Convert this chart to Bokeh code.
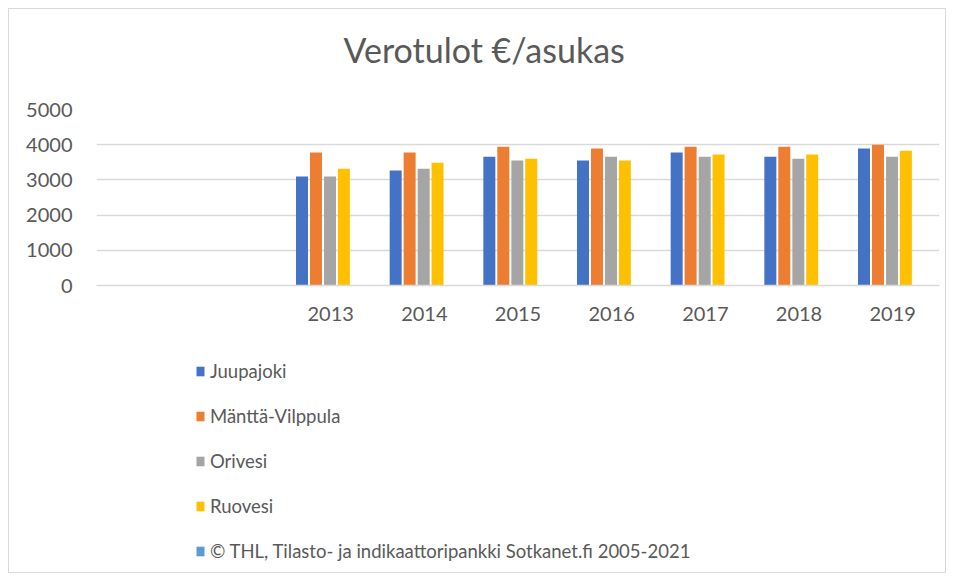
from bokeh.plotting import figure
from bokeh.layouts import column
from bokeh.models import ColumnDataSource, FactorRange, Range1d, Legend, LegendItem, SingleIntervalTicker
from bokeh.transform import dodge
from bokeh.embed import file_html
from bokeh.resources import INLINE

# ---- data ----
categories = ["", " ", "2013", "2014", "2015", "2016", "2017", "2018", "2019"]
years = ["2013", "2014", "2015", "2016", "2017", "2018", "2019"]
juupajoki = [3100, 3270, 3660, 3550, 3775, 3660, 3890]
mantta_vilppula = [3775, 3775, 3945, 3890, 3945, 3945, 4000]
orivesi = [3100, 3315, 3550, 3660, 3660, 3600, 3660]
ruovesi = [3315, 3490, 3600, 3550, 3720, 3720, 3830]
series_names = ["Juupajoki", "Mänttä-Vilppula", "Orivesi", "Ruovesi",
                "© THL, Tilasto- ja indikaattoripankki Sotkanet.fi 2005-2021"]
title_text = "Verotulot €/asukas"

colors = ["#4472C4", "#ED7D31", "#A5A5A5", "#FFC000", "#5B9BD5"]
offsets = [-0.306, -0.157, -0.007, 0.141]
FONT = "Lato"
TXT = "#595959"
W = 936
LEFT = 87
RIGHT = 6


def blank(fig):
    fig.axis.visible = False
    fig.grid.grid_line_color = None
    fig.outline_line_color = None


# ---- title strip ----
t = figure(width=W, height=88, x_range=Range1d(0, 1), y_range=Range1d(0, 1),
           output_backend="svg", toolbar_location=None,
           min_border_left=LEFT, min_border_right=RIGHT, min_border_top=60, min_border_bottom=0)
blank(t)
t.title.text = title_text
t.title.align = "left"
t.title.text_font = FONT
t.title.text_font_style = "normal"
t.title.text_font_size = "34px"
t.title.text_color = TXT
t.title.offset = 247
t.title.standoff = 0

# ---- main chart ----
source = ColumnDataSource(dict(x=years, a=juupajoki, b=mantta_vilppula, c=orivesi, d=ruovesi))
p = figure(width=W, height=230, x_range=FactorRange(*categories, range_padding=0),
           y_range=Range1d(0, 5000), output_backend="svg", toolbar_location=None,
           min_border_left=LEFT, min_border_right=RIGHT, min_border_top=12, min_border_bottom=40)
p.x_range.factor_padding = 0
p.x_range.group_padding = 0

for key, col, off in zip(["a", "b", "c", "d"], colors[:4], offsets):
    p.vbar(x=dodge("x", off, range=p.x_range), top=key, width=0.128, source=source,
           fill_color=col, line_color=None)

p.outline_line_color = None
p.xgrid.grid_line_color = None
p.ygrid.grid_line_color = "#d9d9d9"
p.ygrid.grid_line_width = 1.3
p.yaxis.ticker = SingleIntervalTicker(interval=1000)
p.yaxis.axis_line_color = None
p.yaxis.major_tick_line_color = None
p.yaxis.minor_tick_line_color = None
p.yaxis.major_label_standoff = 18
p.yaxis.major_label_text_font = FONT
p.yaxis.major_label_text_font_size = "20px"
p.yaxis.major_label_text_color = TXT

p.xaxis.axis_line_color = "#d9d9d9"
p.xaxis.axis_line_width = 1.3
p.xaxis.major_tick_line_color = None
p.xaxis.minor_tick_line_color = None
p.xaxis.major_label_standoff = 9
p.xaxis.major_label_text_font = FONT
p.xaxis.major_label_text_font_size = "20px"
p.xaxis.major_label_text_color = TXT

# ---- legend strip (below the chart) ----
q = figure(width=W, height=245, x_range=Range1d(0, 1), y_range=Range1d(0, 1),
           output_backend="svg", toolbar_location=None,
           min_border_left=LEFT, min_border_right=RIGHT, min_border_top=0, min_border_bottom=0)
blank(q)
# zero-height placeholders: they only carry the legend swatches
holder = ColumnDataSource(dict(x=[0.0], top=[0.0], bottom=[0.0]))
leg_renderers = [q.vbar(x="x", top="top", bottom="bottom", width=0.0, source=holder,
                        fill_color=c, line_color=None) for c in colors]
legend = Legend(items=[LegendItem(label=n, renderers=[r]) for n, r in zip(series_names, leg_renderers)],
                location=(99, 10), orientation="vertical", padding=0, margin=0,
                border_line_color=None, background_fill_alpha=0,
                glyph_width=10, glyph_height=12, label_standoff=5, label_height=22, spacing=23,
                label_text_font=FONT, label_text_font_size="18.5px", label_text_color=TXT)
q.add_layout(legend)

layout = column(t, p, q, spacing=0, styles={"border": "1px solid #d9d9d9", "margin": "8px"})

open("out.html", "w").write(file_html(layout, INLINE))
